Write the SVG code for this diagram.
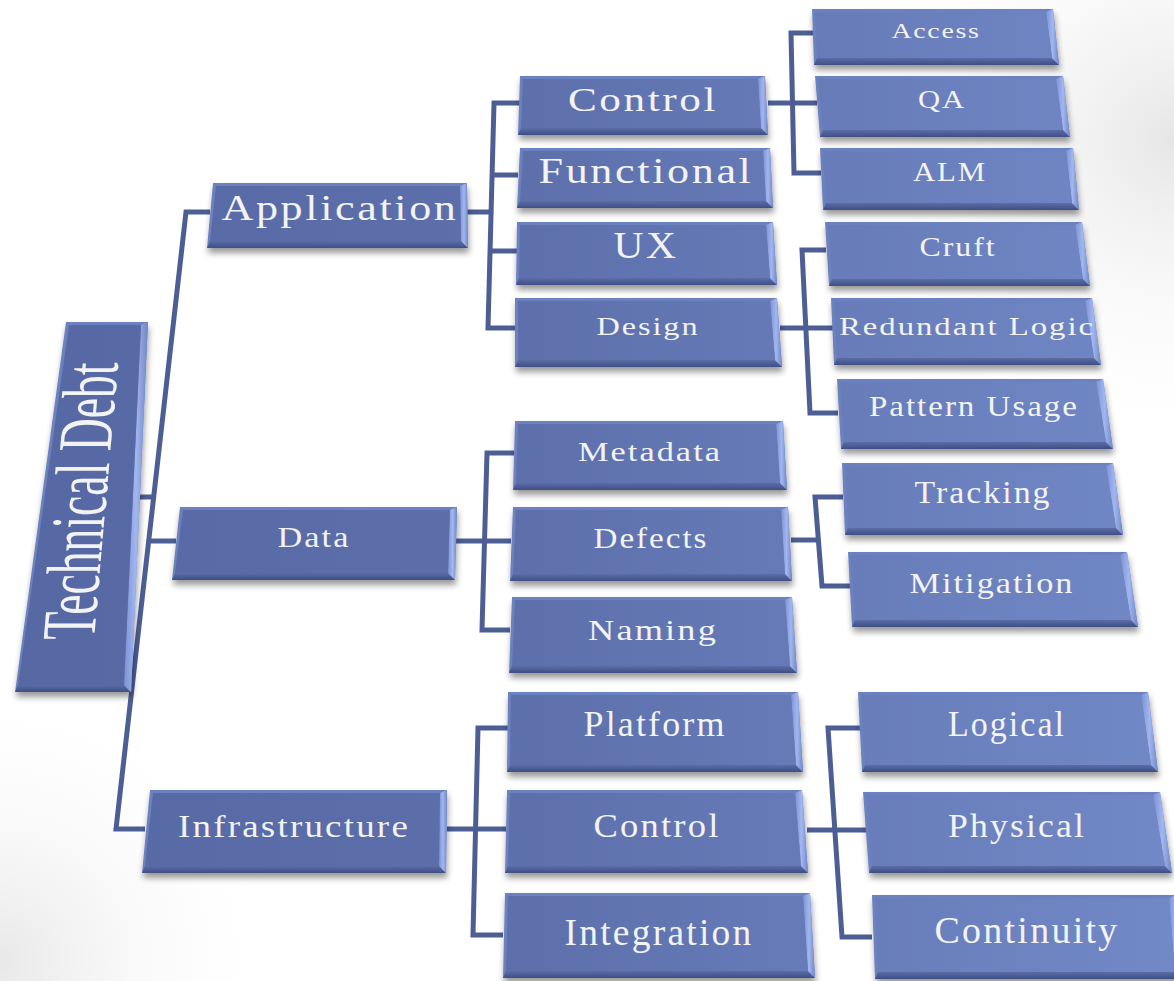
<svg xmlns="http://www.w3.org/2000/svg" width="1174" height="981" viewBox="0 0 1174 981">
  <defs>
    <style>
      .node .rim { fill: #6c81bf; filter: url(#shadow); }
      .node .bot { fill: url(#gBot); }
      .node .rgt { fill: url(#gRgt); }
      .node .face { fill: url(#gFace); }
      .node text { font-family: "Liberation Serif", "Times New Roman", serif; fill: #f3f3f3; text-anchor: middle; letter-spacing: 0.06em; }
      .node text.root { letter-spacing: 0; }
      .wire { fill: none; stroke: #4d5e95; stroke-width: 5; stroke-linejoin: miter; }
    </style>
    <linearGradient id="gFace" gradientUnits="userSpaceOnUse" x1="0" y1="0" x2="1174" y2="0">
      <stop offset="0" stop-color="#5568a4"/>
      <stop offset="0.45" stop-color="#5d70ac"/>
      <stop offset="1" stop-color="#7289c7"/>
    </linearGradient>
    <linearGradient id="gBot" x1="0" y1="0" x2="0" y2="1">
      <stop offset="0" stop-color="#5b6da8"/>
      <stop offset="1" stop-color="#3f4f84"/>
    </linearGradient>
    <linearGradient id="gRgt" x1="0" y1="0" x2="1" y2="0">
      <stop offset="0" stop-color="#7c92d3"/>
      <stop offset="0.5" stop-color="#a2b7f0"/>
      <stop offset="1" stop-color="#7086c5"/>
    </linearGradient>
    <radialGradient id="hazeTR" gradientUnits="userSpaceOnUse" cx="1174" cy="140" r="320">
      <stop offset="0" stop-color="#e6e6e6"/>
      <stop offset="1" stop-color="#ffffff" stop-opacity="0"/>
    </radialGradient>
    <radialGradient id="hazeBL" gradientUnits="userSpaceOnUse" cx="0" cy="960" r="280">
      <stop offset="0" stop-color="#e8e8e8"/>
      <stop offset="1" stop-color="#ffffff" stop-opacity="0"/>
    </radialGradient>
    <filter id="shadow" x="-10%" y="-20%" width="120%" height="150%">
      <feGaussianBlur in="SourceAlpha" stdDeviation="3"/>
      <feOffset dx="1" dy="5"/>
      <feComponentTransfer><feFuncA type="linear" slope="0.4"/></feComponentTransfer>
      <feMerge><feMergeNode/><feMergeNode in="SourceGraphic"/></feMerge>
    </filter>
  </defs>

  <!-- backdrop -->
  <rect width="1174" height="981" fill="#ffffff"/>
  <rect width="1174" height="981" fill="url(#hazeTR)"/>
  <rect width="1174" height="981" fill="url(#hazeBL)"/>

  <!-- tree connectors -->
  <g id="connectors" class="wire">
    <path d="M210,212 H186 L116,829 H145"/>
    <path d="M128,497 H154"/>
    <path d="M149,541 H176"/>
    <path d="M520,103 H494 L488,328 H516 M492,175 H518 M490,251 H517 M467,212 H491"/>
    <path d="M813,33 H791 L794,173 H821 M768,103 H817"/>
    <path d="M826,250 H802 L810,413 H838 M780,328 H833"/>
    <path d="M514,453 H487 L482,630 H510 M456,541 H511"/>
    <path d="M843,497 H815 L822,586 H850 M791,540 H818"/>
    <path d="M508,728 H478 L473,935 H503 M447,829 H506"/>
    <path d="M860,728 H828 L842,937 H872 M807,830 H868"/>
  </g>

  <!-- root -->
  <g id="technical-debt" class="node">
    <polygon class="rim" points="66,322 148,322 131,692 15,692"/>
    <polygon class="bot" points="15,692 131,692 124,685 18,685"/>
    <polygon class="rgt" points="148,322 131,692 124,685 141,325"/>
    <polygon class="face" points="69,325 141,325 124,685 18,685"/>
    <text class="root" transform="translate(106,501) skewX(-5) rotate(-90) scale(1,1.6)" font-size="48" textLength="277" lengthAdjust="spacingAndGlyphs">Technical Debt</text>
  </g>

  <!-- first level -->
  <g id="application" class="node">
    <polygon class="rim" points="213,183 467,183 468,248 207,248"/>
    <polygon class="bot" points="207,248 468,248 461,241 210,241"/>
    <polygon class="rgt" points="467,183 468,248 461,241 460,186"/>
    <polygon class="face" points="216,186 460,186 461,241 210,241"/>
    <text x="340" y="220" font-size="36" textLength="237" lengthAdjust="spacingAndGlyphs">Application</text>
  </g>
  <g id="data" class="node">
    <polygon class="rim" points="180,507 457,507 455,580 172,580"/>
    <polygon class="bot" points="172,580 455,580 448,573 175,573"/>
    <polygon class="rgt" points="457,507 455,580 448,573 450,510"/>
    <polygon class="face" points="183,510 450,510 448,573 175,573"/>
    <text x="314" y="547" font-size="29" textLength="73" lengthAdjust="spacingAndGlyphs">Data</text>
  </g>
  <g id="infrastructure" class="node">
    <polygon class="rim" points="150,790 447,790 446,873 142,873"/>
    <polygon class="bot" points="142,873 446,873 439,866 145,866"/>
    <polygon class="rgt" points="447,790 446,873 439,866 440,793"/>
    <polygon class="face" points="153,793 440,793 439,866 145,866"/>
    <text x="294" y="837" font-size="32" textLength="232" lengthAdjust="spacingAndGlyphs">Infrastructure</text>
  </g>

  <!-- second level -->
  <g id="app-control" class="node">
    <polygon class="rim" points="520,76 765,76 768,135 518,135"/>
    <polygon class="bot" points="518,135 768,135 761,128 521,128"/>
    <polygon class="rgt" points="765,76 768,135 761,128 758,79"/>
    <polygon class="face" points="523,79 758,79 761,128 521,128"/>
    <text x="643" y="111" font-size="34" textLength="150" lengthAdjust="spacingAndGlyphs">Control</text>
  </g>
  <g id="functional" class="node">
    <polygon class="rim" points="520,148 770,148 773,208 517,208"/>
    <polygon class="bot" points="517,208 773,208 766,201 520,201"/>
    <polygon class="rgt" points="770,148 773,208 766,201 763,151"/>
    <polygon class="face" points="523,151 763,151 766,201 520,201"/>
    <text x="646" y="183" font-size="35" textLength="215" lengthAdjust="spacingAndGlyphs">Functional</text>
  </g>
  <g id="ux" class="node">
    <polygon class="rim" points="517,222 773,222 777,285 516,285"/>
    <polygon class="bot" points="516,285 777,285 770,278 519,278"/>
    <polygon class="rgt" points="773,222 777,285 770,278 766,225"/>
    <polygon class="face" points="520,225 766,225 770,278 519,278"/>
    <text x="646" y="258" font-size="38" textLength="65" lengthAdjust="spacingAndGlyphs">UX</text>
  </g>
  <g id="design" class="node">
    <polygon class="rim" points="515,298 777,298 782,367 515,367"/>
    <polygon class="bot" points="515,367 782,367 775,360 518,360"/>
    <polygon class="rgt" points="777,298 782,367 775,360 770,301"/>
    <polygon class="face" points="518,301 770,301 775,360 518,360"/>
    <text x="648" y="335" font-size="26" textLength="103" lengthAdjust="spacingAndGlyphs">Design</text>
  </g>
  <g id="metadata" class="node">
    <polygon class="rim" points="515,421 783,421 787,490 513,490"/>
    <polygon class="bot" points="513,490 787,490 780,483 516,483"/>
    <polygon class="rgt" points="783,421 787,490 780,483 776,424"/>
    <polygon class="face" points="518,424 776,424 780,483 516,483"/>
    <text x="650" y="461" font-size="28" textLength="144" lengthAdjust="spacingAndGlyphs">Metadata</text>
  </g>
  <g id="defects" class="node">
    <polygon class="rim" points="513,507 788,507 792,581 510,581"/>
    <polygon class="bot" points="510,581 792,581 785,574 513,574"/>
    <polygon class="rgt" points="788,507 792,581 785,574 781,510"/>
    <polygon class="face" points="516,510 781,510 785,574 513,574"/>
    <text x="651" y="548" font-size="29" textLength="115" lengthAdjust="spacingAndGlyphs">Defects</text>
  </g>
  <g id="naming" class="node">
    <polygon class="rim" points="512,597 792,597 797,673 509,673"/>
    <polygon class="bot" points="509,673 797,673 790,666 512,666"/>
    <polygon class="rgt" points="792,597 797,673 790,666 785,600"/>
    <polygon class="face" points="515,600 785,600 790,666 512,666"/>
    <text x="653" y="640" font-size="30" textLength="130" lengthAdjust="spacingAndGlyphs">Naming</text>
  </g>
  <g id="platform" class="node">
    <polygon class="rim" points="508,692 798,692 803,772 507,772"/>
    <polygon class="bot" points="507,772 803,772 796,765 510,765"/>
    <polygon class="rgt" points="798,692 803,772 796,765 791,695"/>
    <polygon class="face" points="511,695 791,695 796,765 510,765"/>
    <text x="655" y="736" font-size="35" textLength="143" lengthAdjust="spacingAndGlyphs">Platform</text>
  </g>
  <g id="infra-control" class="node">
    <polygon class="rim" points="507,790 802,790 808,873 505,873"/>
    <polygon class="bot" points="505,873 808,873 801,866 508,866"/>
    <polygon class="rgt" points="802,790 808,873 801,866 795,793"/>
    <polygon class="face" points="510,793 795,793 801,866 508,866"/>
    <text x="657" y="837" font-size="33" textLength="127" lengthAdjust="spacingAndGlyphs">Control</text>
  </g>
  <g id="integration" class="node">
    <polygon class="rim" points="505,893 810,893 815,978 503,978"/>
    <polygon class="bot" points="503,978 815,978 808,971 506,971"/>
    <polygon class="rgt" points="810,893 815,978 808,971 803,896"/>
    <polygon class="face" points="508,896 803,896 808,971 506,971"/>
    <text x="659" y="945" font-size="37" textLength="189" lengthAdjust="spacingAndGlyphs">Integration</text>
  </g>

  <!-- third level -->
  <g id="access" class="node">
    <polygon class="rim" points="812,9 1053,9 1059,65 814,65"/>
    <polygon class="bot" points="814,65 1059,65 1052,58 817,58"/>
    <polygon class="rgt" points="1053,9 1059,65 1052,58 1046,12"/>
    <polygon class="face" points="815,12 1046,12 1052,58 817,58"/>
    <text x="936" y="38" font-size="20" textLength="89" lengthAdjust="spacingAndGlyphs">Access</text>
  </g>
  <g id="qa" class="node">
    <polygon class="rim" points="815,76 1063,76 1070,137 820,137"/>
    <polygon class="bot" points="820,137 1070,137 1063,130 823,130"/>
    <polygon class="rgt" points="1063,76 1070,137 1063,130 1056,79"/>
    <polygon class="face" points="818,79 1056,79 1063,130 823,130"/>
    <text x="942" y="108" font-size="26" textLength="48" lengthAdjust="spacingAndGlyphs">QA</text>
  </g>
  <g id="alm" class="node">
    <polygon class="rim" points="820,148 1073,148 1079,210 823,210"/>
    <polygon class="bot" points="823,210 1079,210 1072,203 826,203"/>
    <polygon class="rgt" points="1073,148 1079,210 1072,203 1066,151"/>
    <polygon class="face" points="823,151 1066,151 1072,203 826,203"/>
    <text x="950" y="181" font-size="27" textLength="74" lengthAdjust="spacingAndGlyphs">ALM</text>
  </g>
  <g id="cruft" class="node">
    <polygon class="rim" points="825,222 1082,222 1090,286 829,286"/>
    <polygon class="bot" points="829,286 1090,286 1083,279 832,279"/>
    <polygon class="rgt" points="1082,222 1090,286 1083,279 1075,225"/>
    <polygon class="face" points="828,225 1075,225 1083,279 832,279"/>
    <text x="958" y="256" font-size="27" textLength="77" lengthAdjust="spacingAndGlyphs">Cruft</text>
  </g>
  <g id="redundant-logic" class="node">
    <polygon class="rim" points="831,298 1092,298 1101,365 834,365"/>
    <polygon class="bot" points="834,365 1101,365 1094,358 837,358"/>
    <polygon class="rgt" points="1092,298 1101,365 1094,358 1085,301"/>
    <polygon class="face" points="834,301 1085,301 1094,358 837,358"/>
    <text x="967" y="335" font-size="26" textLength="256" lengthAdjust="spacingAndGlyphs">Redundant Logic</text>
  </g>
  <g id="pattern-usage" class="node">
    <polygon class="rim" points="837,379 1103,379 1113,449 841,449"/>
    <polygon class="bot" points="841,449 1113,449 1106,442 844,442"/>
    <polygon class="rgt" points="1103,379 1113,449 1106,442 1096,382"/>
    <polygon class="face" points="840,382 1096,382 1106,442 844,442"/>
    <text x="974" y="416" font-size="29" textLength="210" lengthAdjust="spacingAndGlyphs">Pattern Usage</text>
  </g>
  <g id="tracking" class="node">
    <polygon class="rim" points="842,463 1113,463 1123,535 845,535"/>
    <polygon class="bot" points="845,535 1123,535 1116,528 848,528"/>
    <polygon class="rgt" points="1113,463 1123,535 1116,528 1106,466"/>
    <polygon class="face" points="845,466 1106,466 1116,528 848,528"/>
    <text x="983" y="503" font-size="31" textLength="137" lengthAdjust="spacingAndGlyphs">Tracking</text>
  </g>
  <g id="mitigation" class="node">
    <polygon class="rim" points="848,552 1127,552 1138,627 852,627"/>
    <polygon class="bot" points="852,627 1138,627 1131,620 855,620"/>
    <polygon class="rgt" points="1127,552 1138,627 1131,620 1120,555"/>
    <polygon class="face" points="851,555 1120,555 1131,620 855,620"/>
    <text x="992" y="593" font-size="30" textLength="165" lengthAdjust="spacingAndGlyphs">Mitigation</text>
  </g>
  <g id="logical" class="node">
    <polygon class="rim" points="858,692 1148,692 1158,772 862,772"/>
    <polygon class="bot" points="862,772 1158,772 1151,765 865,765"/>
    <polygon class="rgt" points="1148,692 1158,772 1151,765 1141,695"/>
    <polygon class="face" points="861,695 1141,695 1151,765 865,765"/>
    <text x="1007" y="736" font-size="35" textLength="118" lengthAdjust="spacingAndGlyphs">Logical</text>
  </g>
  <g id="physical" class="node">
    <polygon class="rim" points="863,792 1160,792 1172,873 869,873"/>
    <polygon class="bot" points="869,873 1172,873 1165,866 872,866"/>
    <polygon class="rgt" points="1160,792 1172,873 1165,866 1153,795"/>
    <polygon class="face" points="866,795 1153,795 1165,866 872,866"/>
    <text x="1017" y="837" font-size="33" textLength="138" lengthAdjust="spacingAndGlyphs">Physical</text>
  </g>
  <g id="continuity" class="node">
    <polygon class="rim" points="872,895 1176,895 1182,979 875,979"/>
    <polygon class="bot" points="875,979 1182,979 1175,972 878,972"/>
    <polygon class="rgt" points="1176,895 1182,979 1175,972 1169,898"/>
    <polygon class="face" points="875,898 1169,898 1175,972 878,972"/>
    <text x="1027" y="943" font-size="38" textLength="185" lengthAdjust="spacingAndGlyphs">Continuity</text>
  </g>
</svg>
